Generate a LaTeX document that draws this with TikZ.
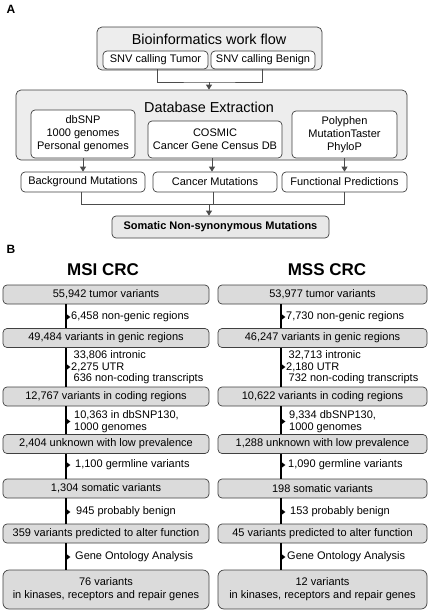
\documentclass[tikz,border=0pt]{standalone}
\usepackage{fontspec}
\setmainfont{Liberation Sans}
\usetikzlibrary{arrows.meta,calc}
\begin{document}
\begin{tikzpicture}[x=1pt,y=-1pt,
  font=\fontsize{11}{13}\selectfont,
  abox/.style={draw=black!75, line width=0.7pt, rounded corners=5pt, fill=black!7, inner sep=0pt},
  wbox/.style={draw=black!75, line width=0.7pt, rounded corners=4pt, fill=white, align=center, inner sep=0pt},
  bbox/.style={draw=black!75, line width=0.7pt, rounded corners=4pt, fill=black!14, inner sep=0pt, align=center, minimum height=19pt},
  conn/.style={draw=black!70, line width=0.7pt},
  arr/.style={conn, -{Triangle[width=6pt,length=5pt]}},
  vline/.style={line width=1.9pt, black},
  lab/.style={anchor=west, inner sep=0pt, align=left, font=\fontsize{11}{11.5}\selectfont},
  ttl/.style={font=\fontsize{14.4}{16}\selectfont, inner sep=0pt},
  tiph/.pic={\fill[black] (0,-2.7) -- (3.6,0) -- (0,2.7) -- cycle;},
]
\useasboundingbox (0,0) rectangle (430,613);

% ---------- Part A ----------
\node[font=\fontsize{12}{14}\selectfont\bfseries] (lA) at (11,9) {A};

\node[abox, minimum width=225pt, minimum height=43pt] (bio) at (209.5,48.5) {};
\node[ttl] (biot) at (209,39) {Bioinformatics work flow};
\node[wbox, minimum width=105pt, minimum height=18pt] (tum) at (155.5,60) {SNV calling Tumor};
\node[wbox, minimum width=104pt, minimum height=18pt] (ben) at (263,60) {SNV calling Benign};

\node[abox, minimum width=391pt, minimum height=70pt] (db) at (211.5,125) {};
\node[ttl] (dbt) at (209,107) {Database Extraction};
\node[wbox, minimum width=104pt, minimum height=48pt] (dbsnp) at (83,134) {dbSNP\\1000 genomes\\Personal genomes};
\node[wbox, minimum width=134pt, minimum height=37pt] (cosmic) at (215,139.5) {COSMIC\\Cancer Gene Census DB};
\node[wbox, minimum width=105pt, minimum height=47pt] (poly) at (344.5,134.5) {Polyphen\\MutationTaster\\PhyloP};

\coordinate (j1) at (209,82);
\draw[conn] ([xshift=1.5pt]tum.south) |- (j1) -| ([xshift=-1pt]ben.south);
\draw[arr] (j1) -- (db.north -| j1);

\node[wbox, minimum width=124pt, minimum height=20pt] (bg) at (83,182) {Background Mutations};
\node[wbox, minimum width=124pt, minimum height=20pt] (cm) at (215,182) {Cancer Mutations};
\node[wbox, minimum width=125pt, minimum height=20pt] (fp) at (344.5,182) {Functional Predictions};

\draw[arr] (dbsnp.south) -- (bg.north);
\draw[arr] ([xshift=-3pt]cosmic.south) -- ([xshift=-3pt]cm.north);
\draw[arr] (poly.south) -- (fp.north);

\node[wbox, fill=black!9, minimum width=217pt, minimum height=22pt, font=\fontsize{11}{13}\selectfont\bfseries] (som) at (220.5,227) {Somatic Non-synonymous Mutations};

\coordinate (j2) at (209,204);
\draw[conn] ([xshift=-2pt]bg.south) |- (fp.south |- j2) -- (fp.south);
\draw[conn] ([xshift=-2pt]cm.south) -- ([xshift=-2pt]cm.south |- j2);
\draw[arr] (j2) -- (som.north -| j2);

% ---------- Part B ----------
\node[font=\fontsize{12}{14}\selectfont\bfseries] (lB) at (11,249) {B};
\node[font=\fontsize{17}{20}\selectfont\bfseries] (msi) at (103,270) {MSI CRC};
\node[font=\fontsize{17}{20}\selectfont\bfseries] (mss) at (327,270) {MSS CRC};

\coordinate (mx) at (66,0);
\coordinate (sx) at (281,0);

% MSI column
\node[bbox, minimum width=206pt] (m1) at (106,294.5) {55,942 tumor variants};
\node[bbox, minimum width=206pt] (m2) at (106,338) {49,484 variants in genic regions};
\node[bbox, minimum width=206pt] (m3) at (106,396.5) {12,767 variants in coding regions};
\node[bbox, minimum width=206pt] (m4) at (106,444) {2,404 unknown with low prevalence};
\node[bbox, minimum width=206pt] (m5) at (106,488.5) {1,304 somatic variants};
\node[bbox, minimum width=206pt] (m6) at (106,533.5) {359 variants predicted to alter function};
\node[bbox, minimum width=206pt, minimum height=39pt, rounded corners=6pt] (m7) at (106,589.5) {76 variants\\in kinases, receptors and repair genes};

% MSS column
\node[bbox, minimum width=209pt] (s1) at (322.5,294.5) {53,977 tumor variants};
\node[bbox, minimum width=209pt] (s2) at (322.5,338) {46,247 variants in genic regions};
\node[bbox, minimum width=209pt] (s3) at (322.5,396.5) {10,622 variants in coding regions};
\node[bbox, minimum width=209pt] (s4) at (322.5,444) {1,288 unknown with low prevalence};
\node[bbox, minimum width=209pt] (s5) at (322.5,488.5) {198 somatic variants};
\node[bbox, minimum width=209pt] (s6) at (322.5,533.5) {45 variants predicted to alter function};
\node[bbox, minimum width=209pt, minimum height=39pt, rounded corners=6pt] (s7) at (322.5,589.5) {12 variants\\in kinases, receptors and repair genes};

\foreach \a/\b in {1/2,2/3,3/4,4/5,5/6,6/7}{
  \draw[vline] (m\a.south -| mx) -- (m\b.north -| mx);
  \draw[vline] (s\a.south -| sx) -- (s\b.north -| sx);
}

% tips
\foreach \yy in {317,367,421.5,465,512,557}{
  \pic at (66.8,\yy) {tiph};
  \pic at (281.8,\yy) {tiph};
}

% MSI labels
\node[lab] (ml1) at (71,317) {6,458 non-genic regions};
\node[lab] (ml2) at (73.5,367.5) {33,806 intronic\\\hspace*{-2.5pt}2,275 UTR\\636 non-coding transcripts};
\node[lab] (ml3) at (74,421.5) {10,363 in dbSNP130,\\1000 genomes};
\node[lab] (ml4) at (75,465) {1,100 germline variants};
\node[lab] (ml5) at (76,512) {945 probably benign};
\node[lab] (ml6) at (75,557) {Gene Ontology Analysis};

% MSS labels
\node[lab] (sl1) at (286,317) {7,730 non-genic regions};
\node[lab] (sl2) at (288.5,367.5) {32,713 intronic\\\hspace*{-2.5pt}2,180 UTR\\732 non-coding transcripts};
\node[lab] (sl3) at (289,421.5) {9,334 dbSNP130,\\1000 genomes};
\node[lab] (sl4) at (288,465) {1,090 germline variants};
\node[lab] (sl5) at (290,512) {153 probably benign};
\node[lab] (sl6) at (287,557) {Gene Ontology Analysis};
\end{tikzpicture}
\end{document}
